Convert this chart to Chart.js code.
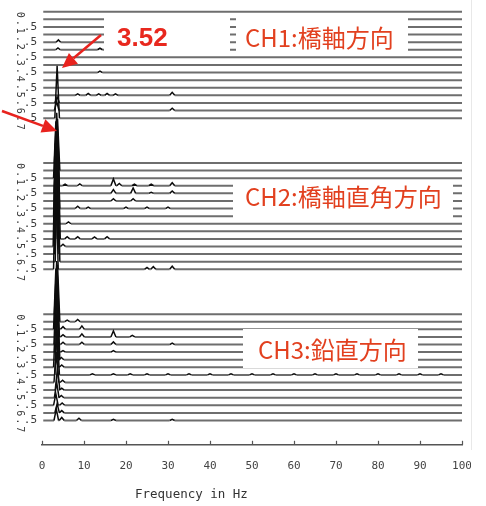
<!DOCTYPE html>
<html>
<head>
<meta charset="utf-8">
<script src="https://cdn.jsdelivr.net/npm/chart.js@4.4.1/dist/chart.umd.min.js"></script>
<style>
    html, body { margin: 0; padding: 0; background: #fff; }
    canvas { display: block; }
</style>
</head>
<body>
<canvas id="spectrumChart" width="486" height="506"></canvas>
<script>
// ========================================
// DATA
// ========================================

const freqTicks = [0, 10, 20, 30, 40, 50, 60, 70, 80, 90, 100];
const channelLabels = ['CH1:橋軸方向', 'CH2:橋軸直角方向', 'CH3:鉛直方向'];
const peakLabel = '3.52';
const axisTitle = 'Frequency in Hz';
const sideDigits = '0.1.2.3.4.5.6.7';

// level of the lowest trace of each channel (1 unit = one trace step)
const channelBase = [43.0, 23.1, 3.2];
const traceCount = 15;

// main peak near 3.52 Hz, lowest trace first
const ch1PeakHz  = [3.6, 3.5, 3.6, 3.5, 3.6, 3.5, 3.6, 3.5, 3.6, 3.8, 3.9, 3.6, 3.5, 3.6, 3.5];
const ch1PeakAmp = [6.9, 1.2, 0.8, 0, 0, 0, 0, 0, 0, 0.25, 0.3, 0, 0, 0, 0];
const ch2PeakHz  = [3.3, 3.7, 3.5, 3.2, 3.8, 3.4, 3.6, 3.3, 3.7, 3.5, 3.4, 3.6, 3.3, 3.7, 3.5];
const ch2PeakAmp = [16.0, 15.0, 14.0, 13.6, 12.5, 12.0, 11.8, 10.5, 10.0, 9.4, 8.6, 8.0, 7.5, 6.8, 6.6];
const ch3PeakHz  = [3.4, 3.6, 3.3, 3.5, 3.7, 3.4, 3.6, 3.3, 3.7, 3.5, 3.4, 3.6, 3.3, 3.7, 3.5];
const ch3PeakAmp = [1.5, 1.2, 1.5, 2.0, 3.0, 4.0, 6.0, 7.0, 8.5, 9.0, 9.0, 8.5, 8.0, 7.5, 7.0];

// smaller peaks: [trace, Hz, amplitude]
const ch1Bumps = [
    [9, 13.8, 0.2], [6, 13.8, 0.2],
    [3, 8.5, 0.2], [3, 11.0, 0.25], [3, 13.5, 0.2], [3, 15.5, 0.25], [3, 17.5, 0.2], [3, 31.0, 0.4],
    [1, 31.0, 0.3]
];
const ch2Bumps = [
    [11, 5.5, 0.2], [11, 9.0, 0.25], [11, 17.0, 0.9], [11, 18.4, 0.3], [11, 22.0, 0.2], [11, 26.0, 0.2], [11, 31.0, 0.4],
    [10, 17.0, 0.5], [10, 21.7, 0.7], [10, 26.0, 0.15], [10, 31.0, 0.3],
    [9, 17.0, 0.3], [9, 21.7, 0.3],
    [8, 8.5, 0.3], [8, 11.0, 0.2], [8, 20.0, 0.2], [8, 25.0, 0.2], [8, 30.0, 0.2],
    [6, 6.3, 0.25],
    [4, 6.0, 0.3], [4, 8.5, 0.3], [4, 12.5, 0.25], [4, 15.5, 0.3],
    [3, 5.0, 0.3],
    [0, 25.0, 0.25], [0, 26.5, 0.35], [0, 31.0, 0.4]
];
const ch3Bumps = [
    [13, 6.0, 0.2], [13, 8.5, 0.3],
    [12, 5.0, 0.35], [12, 9.5, 0.45],
    [11, 5.0, 0.3], [11, 9.5, 0.4], [11, 17.0, 0.8], [11, 21.5, 0.2],
    [10, 5.0, 0.3], [10, 9.5, 0.3], [10, 17.0, 0.35], [10, 31.0, 0.2],
    [9, 5.0, 0.2], [9, 17.0, 0.2],
    [8, 4.6, 0.3], [7, 4.7, 0.3],
    [6, 12, 0.15], [6, 17, 0.15], [6, 21, 0.15], [6, 25, 0.15], [6, 30, 0.15], [6, 35, 0.15],
    [6, 40, 0.15], [6, 45, 0.15], [6, 50, 0.15], [6, 55, 0.15], [6, 60, 0.15], [6, 65, 0.15],
    [6, 70, 0.15], [6, 75, 0.15], [6, 80, 0.15], [6, 85, 0.15], [6, 90, 0.15], [6, 95, 0.15],
    [5, 4.9, 0.3], [4, 4.7, 0.25], [3, 4.6, 0.3], [2, 4.8, 0.3], [1, 4.7, 0.3],
    [0, 4.7, 0.4], [0, 8.8, 0.3], [0, 17.0, 0.15], [0, 31.0, 0.15]
];

const peakHz = [ch1PeakHz, ch2PeakHz, ch3PeakHz];
const peakAmp = [ch1PeakAmp, ch2PeakAmp, ch3PeakAmp];
const bumps = [ch1Bumps, ch2Bumps, ch3Bumps];

// ========================================
// STYLE
// ========================================

const LINE_GRAY = '#6e6e6e';
const TRACE_DARK = '#0d0d0d';
const RED = '#e2401f';

// ========================================
// BUILD TRACES
// ========================================

function buildTrace(ch, i) {
    const base = channelBase[ch] + i;
    const feats = [];
    if (peakAmp[ch][i] > 0) feats.push([peakHz[ch][i], peakAmp[ch][i], 0.55]);
    bumps[ch].filter(b => b[0] === i).forEach(b => feats.push([b[1], b[2], 0.6]));
    feats.sort((a, b) => a[0] - b[0]);

    const pts = [{ x: 0.3, y: base }];
    feats.forEach(([hz, amp, half]) => {
        pts.push({ x: hz - half, y: base }, { x: hz, y: base + amp }, { x: hz + half, y: base });
    });
    pts.push({ x: 100, y: base });
    return pts;
}

const isFlat = ctx => ctx.p0.parsed.y === ctx.p1.parsed.y;
const datasets = [];

for (let ch = 0; ch < 3; ch++) {
    for (let i = 0; i < traceCount; i++) {
        const pts = buildTrace(ch, i);
        // gray baseline parts
        datasets.push({
            data: pts,
            order: 2,
            borderColor: LINE_GRAY,
            borderWidth: 2,
            segment: { borderColor: ctx => isFlat(ctx) ? LINE_GRAY : 'rgba(0,0,0,0)' }
        });
        // dark peaks on top
        datasets.push({
            data: pts,
            order: 1,
            borderColor: 'rgba(0,0,0,0)',
            borderWidth: 1.5,
            segment: { borderColor: ctx => isFlat(ctx) ? 'rgba(0,0,0,0)' : TRACE_DARK }
        });
    }
}

// ========================================
// DECORATIONS
// ========================================

function drawArrow(ctx, x1, y1, x2, y2) {
    const ang = Math.atan2(y2 - y1, x2 - x1);
    const headLen = 15, headW = 7;
    const bx = x2 - headLen * Math.cos(ang), by = y2 - headLen * Math.sin(ang);
    ctx.strokeStyle = '#e8231e';
    ctx.fillStyle = '#e8231e';
    ctx.lineWidth = 2.5;
    ctx.beginPath();
    ctx.moveTo(x1, y1);
    ctx.lineTo(bx, by);
    ctx.stroke();
    ctx.beginPath();
    ctx.moveTo(x2, y2);
    ctx.lineTo(bx + headW * Math.sin(ang), by - headW * Math.cos(ang));
    ctx.lineTo(bx - headW * Math.sin(ang), by + headW * Math.cos(ang));
    ctx.closePath();
    ctx.fill();
}

const decorations = {
    id: 'decorations',
    afterDraw(chart) {
        const ctx = chart.ctx;
        const xs = chart.scales.x, ys = chart.scales.y;
        const bottom = chart.chartArea.bottom;
        ctx.save();

        // upward ticks on the frequency axis
        ctx.strokeStyle = '#555';
        ctx.lineWidth = 1.2;
        freqTicks.forEach(v => {
            const px = Math.round(xs.getPixelForValue(v)) + 0.5;
            ctx.beginPath();
            ctx.moveTo(px, bottom);
            ctx.lineTo(px, bottom - 4);
            ctx.stroke();
        });

        // left side labels
        ctx.fillStyle = '#3a3a3a';
        ctx.font = '11px "DejaVu Sans Mono"';
        ctx.textAlign = 'right';
        ctx.textBaseline = 'middle';
        for (let ch = 0; ch < 3; ch++) {
            for (let i = 0; i <= 12; i += 2) {
                ctx.fillText('.5', 37, ys.getPixelForValue(channelBase[ch] + i));
            }
            const yTop = ys.getPixelForValue(channelBase[ch] + traceCount - 1);
            ctx.save();
            ctx.translate(20, yTop);
            ctx.rotate(Math.PI / 2);
            ctx.textAlign = 'left';
            ctx.font = '10px "DejaVu Sans Mono"';
            for (let k = 0; k < sideDigits.length; k++) {
                ctx.fillText(sideDigits[k], k * 8, 0);
            }
            ctx.restore();
        }

        // white label boxes
        ctx.fillStyle = '#fff';
        ctx.fillRect(104, 16, 126, 40);
        ctx.fillRect(236, 16, 172, 40);
        ctx.fillRect(233, 180, 220, 40);
        ctx.fillRect(243, 329, 175, 39);

        // texts
        ctx.textAlign = 'left';
        ctx.textBaseline = 'middle';
        ctx.fillStyle = '#e8281e';
        ctx.font = 'bold 26px "Liberation Sans", Arial, sans-serif';
        ctx.fillText(peakLabel, 117, 39);

        ctx.fillStyle = RED;
        ctx.font = '24px "Noto Sans CJK JP", sans-serif';
        ctx.fillText(channelLabels[0], 245, 38);
        ctx.fillText(channelLabels[1], 245, 197);
        ctx.fillText(channelLabels[2], 258, 350);

        // arrows
        drawArrow(ctx, 101, 35, 62, 68);
        drawArrow(ctx, 2, 111, 57, 131);

        // axis title
        ctx.fillStyle = '#333';
        ctx.font = '12.5px "DejaVu Sans Mono"';
        ctx.textAlign = 'left';
        ctx.fillText(axisTitle, 135, 495);

        // picture edge on the right
        ctx.fillStyle = '#fff';
        ctx.fillRect(471, 0, 15, 506);
        ctx.strokeStyle = '#e8e8e8';
        ctx.lineWidth = 1;
        ctx.beginPath();
        ctx.moveTo(471.5, 0);
        ctx.lineTo(471.5, 450);
        ctx.stroke();

        ctx.restore();
    }
};

// ========================================
// CHART
// ========================================

new Chart(document.getElementById('spectrumChart'), {
    type: 'line',
    data: { datasets: datasets },
    options: {
        responsive: false,
        animation: false,
        events: [],
        layout: { padding: { left: 42, right: 24, top: 0, bottom: 26 } },
        elements: { point: { radius: 0 }, line: { tension: 0 } },
        plugins: { legend: { display: false }, tooltip: { enabled: false } },
        scales: {
            x: {
                type: 'linear',
                min: 0,
                max: 100,
                afterBuildTicks: scale => { scale.ticks = freqTicks.map(v => ({ value: v })); },
                ticks: {
                    color: '#444',
                    font: { family: 'DejaVu Sans Mono', size: 11 },
                    padding: 7,
                    maxRotation: 0,
                    autoSkip: false
                },
                grid: { display: false },
                border: { display: true, color: '#555', width: 1.5 }
            },
            y: { type: 'linear', min: 0, max: 58.55, display: false }
        }
    },
    plugins: [decorations]
});
</script>
</body>
</html>
